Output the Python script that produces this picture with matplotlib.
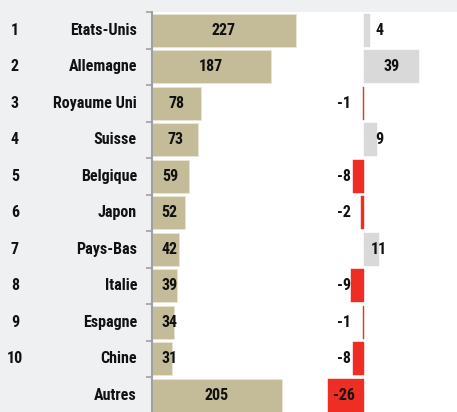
import matplotlib
matplotlib.use("Agg")
import matplotlib.pyplot as plt

ranks = ["1", "2", "3", "4", "5", "6", "7", "8", "9", "10", ""]
countries = ["Etats-Unis", "Allemagne", "Royaume Uni", "Suisse", "Belgique", "Japon",
             "Pays-Bas", "Italie", "Espagne", "Chine", "Autres"]
stock = [227, 187, 78, 73, 59, 52, 42, 39, 34, 31, 205]
change = [4, 39, -1, 9, -8, -2, 11, -9, -1, -8, -26]

plt.rcParams["font.family"] = ["Roboto Condensed", "Liberation Sans", "DejaVu Sans"]

W, H = 457, 412
fig = plt.figure(figsize=(W / 100, H / 100), dpi=100)
bg = "#EFF0F2"
fig.patch.set_facecolor(bg)

x0 = 152
top = 12
row = 36.5
n = len(countries)
ax_h = row * n
left = x0 / W
width = (W - x0) / W
bottom = 1 - (top + ax_h) / H
height = ax_h / H
fs = 11.5

ax1 = fig.add_axes([left, bottom, width, height])
ax1.set_facecolor("white")
sx1 = 0.634
ax1.set_xlim(0, (W - x0) / sx1)
ax1.set_ylim(n - 0.5, -0.5)
ys = list(range(n))
ax1.barh(ys, stock, height=0.9, color="#C4BC98", edgecolor="#EAE6D6", linewidth=0.6)
for y, v in zip(ys, stock):
    ax1.text(max(v / 2, 28), y, str(v), ha="center", va="center",
             fontsize=fs, fontweight="bold", color="#111111")

ax2 = fig.add_axes([left, bottom, width, height])
ax2.patch.set_alpha(0)
sx2 = 1.4
z = 364
ax2.set_xlim(-(z - x0) / sx2, (W - z) / sx2)
ax2.set_ylim(n - 0.5, -0.5)
cols = ["#D9D9D9" if v >= 0 else "#EE2E24" for v in change]
ax2.barh(ys, change, height=0.9, color=cols, edgecolor=cols, linewidth=0.3)
for y, v in zip(ys, change):
    if v >= 0:
        xp = max(v / 2, 11)
    else:
        xp = min(v / 2, -14)
    ax2.text(xp, y, str(v), ha="center", va="center",
             fontsize=fs, fontweight="bold", color="#111111")

for ax in (ax1, ax2):
    for s in ax.spines.values():
        s.set_visible(False)
    ax.set_xticks([])
ax2.set_yticks([])
ax1.spines["left"].set_visible(True)
ax1.spines["left"].set_color("#A0A0A0")
ax1.spines["left"].set_linewidth(1.5)
ax1.set_yticks([k - 0.5 for k in range(n + 1)])
ax1.set_yticklabels([])
ax1.tick_params(axis="y", length=4, width=1.2, color="#A0A0A0", direction="out")

for y, r, c in zip(ys, ranks, countries):
    yp = 1 - (top + row * (y + 0.5)) / H
    fig.text(15 / W, yp, r, ha="center", va="center", fontsize=fs,
             fontweight="bold", color="#111111")
    fig.text(137 / W, yp, c, ha="right", va="center", fontsize=fs,
             fontweight="bold", color="#111111")

fig.savefig("out.png", dpi=100, facecolor=fig.get_facecolor())
